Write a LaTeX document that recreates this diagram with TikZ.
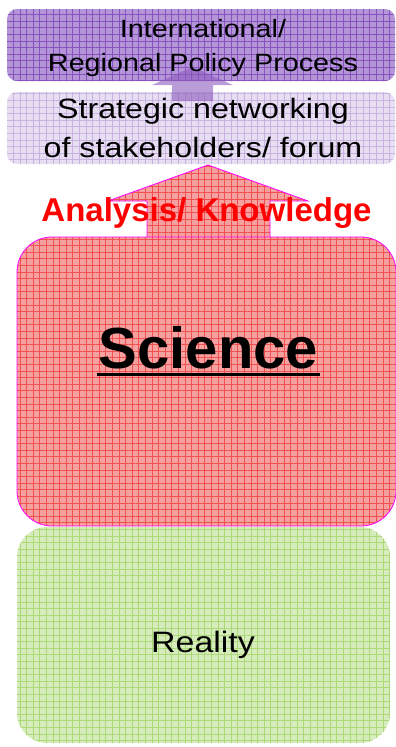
\documentclass[tikz,border=0pt]{standalone}
\usepackage{fontspec}
\setmainfont{Liberation Sans}
\newfontfamily\widefont[FakeStretch=1.15]{Liberation Sans}
\usepackage{tikz}
\usetikzlibrary{patterns.meta}
\definecolor{policyfill}{RGB}{180, 150, 216}
\definecolor{policygrid}{RGB}{135, 82, 190}
\definecolor{forumfill}{RGB}{232, 222, 242}
\definecolor{forumgrid}{RGB}{200, 178, 226}
\definecolor{sciencefill}{RGB}{246, 160, 160}
\definecolor{sciencegrid}{RGB}{240, 80, 80}
\definecolor{realityfill}{RGB}{214, 236, 188}
\definecolor{realitygrid}{RGB}{172, 216, 118}
\definecolor{arrowpurple}{RGB}{140, 90, 190}
\definecolor{edgemagenta}{RGB}{255, 0, 255}
\tikzset{
  gridbox/.style 2 args={preaction={fill=#1},
    pattern={Hatch[distance=6.6pt, angle=0, line width=0.5pt]},
    pattern color=#2},
  layerbox/.style={draw=none, inner sep=0pt, rectangle},
  boxtext/.style={align=center, inner sep=0pt, text=black}
}

\begin{document}
\begin{tikzpicture}[x=1pt, y=-1pt]
    \useasboundingbox (0,0) rectangle (396,747);

    %% layer boxes, top to bottom
    \node[layerbox, gridbox={policyfill}{policygrid}, rounded corners=10pt,
          minimum width=388pt, minimum height=72pt] (policy) at (201,45) {};
    \node[layerbox, gridbox={forumfill}{forumgrid}, rounded corners=10pt,
          minimum width=388pt, minimum height=72pt] (forum) at (201,128) {};
    \node[layerbox, gridbox={realityfill}{realitygrid}, rounded corners=30pt,
          minimum width=373pt, minimum height=216pt] (reality) at (203.5,635) {};

    %% big arrow science -> forum
    \path[gridbox={sciencefill}{sciencegrid}, draw=edgemagenta, thick]
      (147,250) -- (147,201) -- (108,201) -- (208,165)
      -- (308,201) -- (270,201) -- (270,250) -- cycle;
    \node[layerbox, gridbox={sciencefill}{sciencegrid}, draw=edgemagenta,
          thick, rounded corners=35pt,
          minimum width=379pt, minimum height=289pt] (science) at (206.5,381.5) {};

    %% small arrow forum -> policy
    \fill[arrowpurple, opacity=0.6]
      (172,101) -- (172,85) -- (152,85) -- (192.5,67)
      -- (233,85) -- (213,85) -- (213,101) -- cycle;

    %% texts
    \node[boxtext, font=\widefont\fontsize{25}{34}\selectfont] (policytext)
      at (203,48.5) {International/\\Regional Policy Process};
    \node[boxtext, font=\widefont\fontsize{28}{39}\selectfont] (forumtext)
      at (203,127.5) {Strategic networking\\of stakeholders/ forum};
    \node[boxtext, anchor=base, text=red, font=\bfseries\fontsize{33}{40}\selectfont]
      (knowledge) at (206.5,221) {Analysis/ Knowledge};
    \node[boxtext, anchor=base, font=\bfseries\fontsize{58}{70}\selectfont]
      (sciencetext) at (208.5,368) {Science};
    \draw[line width=3pt] (97,374) -- (320,374);
    \node[boxtext, anchor=base, font=\widefont\fontsize{29.5}{36}\selectfont]
      (realitytext) at (203,652) {Reality};
\end{tikzpicture}
\end{document}
